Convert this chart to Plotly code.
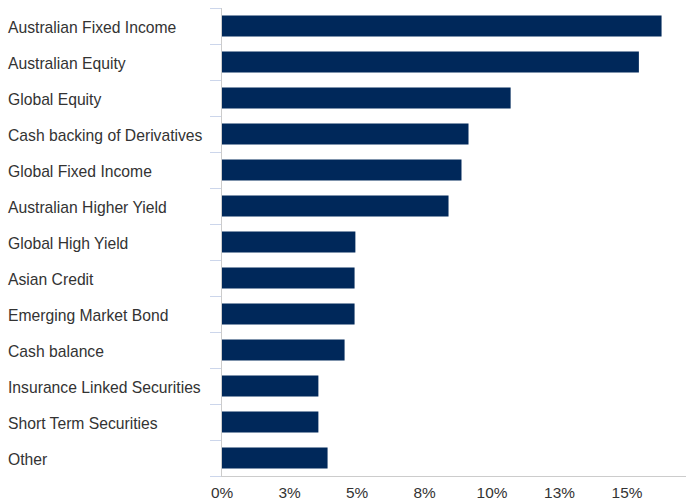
import plotly.graph_objects as go

# Asset allocation by sector (% of portfolio)
categories = [
    "Australian Fixed Income",
    "Australian Equity",
    "Global Equity",
    "Cash backing of Derivatives",
    "Global Fixed Income",
    "Australian Higher Yield",
    "Global High Yield",
    "Asian Credit",
    "Emerging Market Bond",
    "Cash balance",
    "Insurance Linked Securities",
    "Short Term Securities",
    "Other",
]
weights = [16.28, 15.44, 10.69, 9.13, 8.87, 8.39, 4.94, 4.91, 4.91, 4.54, 3.57, 3.57, 3.91]

tick_values = [0, 2.5, 5, 7.5, 10, 12.5, 15]
tick_labels = ["0%", "3%", "5%", "8%", "10%", "13%", "15%"]

W, H = 686, 504
ML, MR, MT, MB = 222, 0, 8, 28
BAR_COLOR = "#00285a"
FONT_FAMILY = "Liberation Sans, Arial, sans-serif"
LABEL_FONT = dict(family=FONT_FAMILY, size=15.7, color="#333333")
TICK_FONT = dict(family=FONT_FAMILY, size=15.4, color="#333333")

fig = go.Figure(
    go.Bar(
        x=weights,
        y=categories,
        orientation="h",
        marker=dict(color=BAR_COLOR, line=dict(width=0)),
        width=0.58,
        hoverinfo="skip",
    )
)

# Left-aligned category labels sitting in the left margin
plot_w = W - ML - MR
for cat in categories:
    fig.add_annotation(
        x=(6 - ML) / plot_w,
        xref="paper",
        y=cat,
        yref="y",
        text=cat,
        showarrow=False,
        xanchor="left",
        yanchor="middle",
        yshift=-1.5,
        font=LABEL_FONT,
    )

fig.update_layout(
    width=W,
    height=H,
    margin=dict(l=ML, r=MR, t=MT, b=MB, pad=0),
    plot_bgcolor="white",
    paper_bgcolor="white",
    showlegend=False,
    xaxis=dict(
        range=[0, (W - ML - MR) / 27.0],
        tickmode="array",
        tickvals=tick_values,
        ticktext=tick_labels,
        showgrid=False,
        zeroline=False,
        showline=True,
        linecolor="#cccccc",
        linewidth=1,
        ticks="outside",
        ticklen=3,
        tickcolor="rgba(0,0,0,0)",
        tickfont=TICK_FONT,
        fixedrange=True,
    ),
    yaxis=dict(
        categoryorder="array",
        categoryarray=categories[::-1],
        range=[-0.5, len(categories) - 0.5],
        showticklabels=False,
        showgrid=False,
        zeroline=False,
        showline=True,
        linecolor="#cccccc",
        linewidth=1,
        ticks="outside",
        tickson="boundaries",
        ticklen=11,
        tickcolor="#ccd6eb",
        fixedrange=True,
    ),
)

fig.write_html("out.html")
